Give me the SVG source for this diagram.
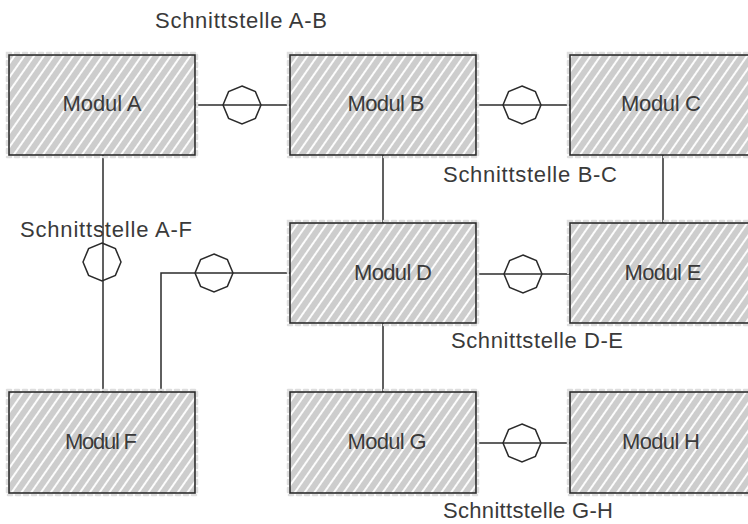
<svg xmlns="http://www.w3.org/2000/svg" width="748" height="524" viewBox="0 0 748 524">
  <defs>
    <!-- sketchy hatch fill for module boxes -->
    <pattern id="hatch" width="8" height="8" patternUnits="userSpaceOnUse" patternTransform="rotate(35)">
      <rect width="8" height="8" fill="#cdcdcd"/>
      <line x1="4" y1="0" x2="4" y2="8" stroke="#ffffff" stroke-width="1.9"/>
    </pattern>
    <!-- interface symbol: octagon with a vertex at top, bottom, left and right -->
    <polygon id="port" points="0,-19 13.4,-13.4 19,0 13.4,13.4 0,19 -13.4,13.4 -19,0 -13.4,-13.4"/>
  </defs>
  <style>
    .box { fill: url(#hatch); stroke: #2b2b2b; stroke-width: 1.6; }
    .halo { fill: none; stroke: #dedede; stroke-width: 2.5; stroke-dasharray: 4 4; stroke-linecap: round; }
    .wire { fill: none; stroke: #2b2b2b; stroke-width: 1.5; }
    .port { fill: none; stroke: #2b2b2b; stroke-width: 1.5; }
    .label { font-family: "Liberation Sans", "DejaVu Sans", sans-serif; font-size: 22px; fill: #3a3a3a; }
    .name { font-family: "Liberation Sans", "DejaVu Sans", sans-serif; font-size: 22px; fill: #3a3a3a; text-anchor: middle; }
  </style>
  <rect width="748" height="524" fill="#ffffff"/>

  <!-- connectors -->
  <g id="connectors">
    <!-- A - B -->
    <line class="wire" x1="195" y1="105" x2="290" y2="105"/>
    <use href="#port" class="port" x="242" y="105"/>
    <!-- B - C -->
    <line class="wire" x1="476" y1="105" x2="570" y2="105"/>
    <use href="#port" class="port" x="522" y="105"/>
    <!-- B - D -->
    <line class="wire" x1="383" y1="155" x2="383" y2="223"/>
    <!-- C - E -->
    <line class="wire" x1="663" y1="155" x2="663" y2="223"/>
    <!-- A - F -->
    <line class="wire" x1="103" y1="155" x2="103" y2="392"/>
    <use href="#port" class="port" x="102" y="262"/>
    <!-- D - F -->
    <polyline class="wire" points="290,273 161,273 161,392"/>
    <use href="#port" class="port" x="214" y="273"/>
    <!-- D - E -->
    <line class="wire" x1="476" y1="274" x2="570" y2="274"/>
    <use href="#port" class="port" x="523" y="274"/>
    <!-- D - G -->
    <line class="wire" x1="383" y1="323" x2="383" y2="392"/>
    <!-- G - H -->
    <line class="wire" x1="476" y1="443" x2="570" y2="443"/>
    <use href="#port" class="port" x="522" y="443"/>
  </g>

  <!-- modules -->
  <g id="modul-a">
    <rect class="halo" x="7" y="53" width="190" height="104"/>
    <rect class="box" x="9" y="55" width="186" height="100"/>
    <text class="name" x="102" y="111" textLength="79">Modul A</text>
  </g>
  <g id="modul-b">
    <rect class="halo" x="288" y="53" width="190" height="104"/>
    <rect class="box" x="290" y="55" width="186" height="100"/>
    <text class="name" x="386" y="111" textLength="77">Modul B</text>
  </g>
  <g id="modul-c">
    <rect class="halo" x="568" y="53" width="190" height="104"/>
    <rect class="box" x="570" y="55" width="186" height="100"/>
    <text class="name" x="661" y="111" textLength="80">Modul C</text>
  </g>
  <g id="modul-d">
    <rect class="halo" x="288" y="221" width="190" height="104"/>
    <rect class="box" x="290" y="223" width="186" height="100"/>
    <text class="name" x="393" y="280" textLength="78">Modul D</text>
  </g>
  <g id="modul-e">
    <rect class="halo" x="568" y="221" width="190" height="104"/>
    <rect class="box" x="570" y="223" width="186" height="100"/>
    <text class="name" x="663" y="280" textLength="77">Modul E</text>
  </g>
  <g id="modul-f">
    <rect class="halo" x="7" y="390" width="190" height="105"/>
    <rect class="box" x="9" y="392" width="186" height="101"/>
    <text class="name" x="101" y="449" textLength="72">Modul F</text>
  </g>
  <g id="modul-g">
    <rect class="halo" x="288" y="390" width="190" height="105"/>
    <rect class="box" x="290" y="392" width="186" height="101"/>
    <text class="name" x="387" y="449" textLength="79">Modul G</text>
  </g>
  <g id="modul-h">
    <rect class="halo" x="568" y="390" width="190" height="105"/>
    <rect class="box" x="570" y="392" width="186" height="101"/>
    <text class="name" x="661" y="449" textLength="78">Modul H</text>
  </g>

  <!-- interface labels -->
  <g id="labels">
    <text class="label" x="155" y="28" textLength="172">Schnittstelle A-B</text>
    <text class="label" x="443" y="182" textLength="174">Schnittstelle B-C</text>
    <text class="label" x="20" y="237" textLength="172">Schnittstelle A-F</text>
    <text class="label" x="451" y="348" textLength="172">Schnittstelle D-E</text>
    <text class="label" x="443" y="518" textLength="170">Schnittstelle G-H</text>
  </g>
</svg>
